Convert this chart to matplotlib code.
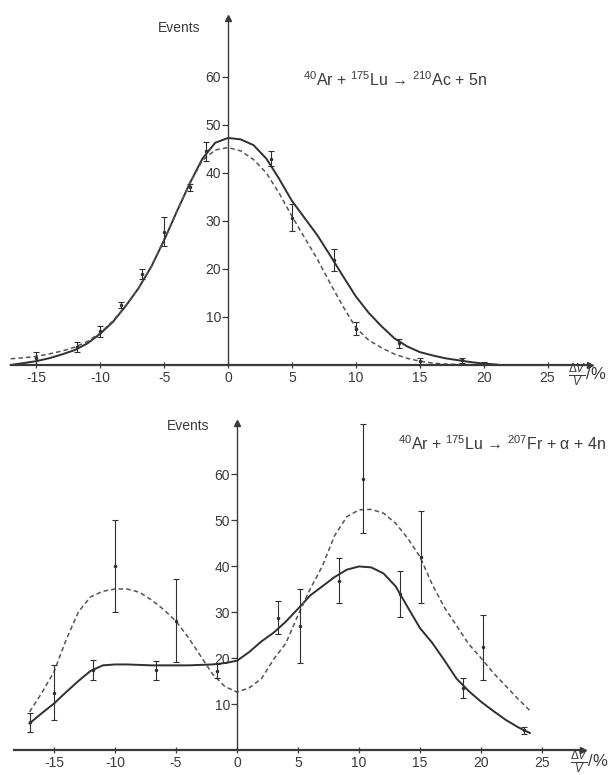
import numpy as np
import matplotlib
matplotlib.use("Agg")
import matplotlib.pyplot as plt

plt.rcParams['font.family'] = ['Liberation Sans', 'DejaVu Sans']
plt.rcParams['mathtext.fontset'] = 'custom'
plt.rcParams['mathtext.rm'] = 'Liberation Sans'
plt.rcParams['mathtext.it'] = 'Liberation Sans:italic'
plt.rcParams['axes.unicode_minus'] = False

# ---------------- DATOS: panel superior (210Ac + 5n) ----------------
top_x = [-17, -16, -15, -14, -13, -12, -11, -10, -9, -8, -7, -6, -5, -4, -3, -2, -1, 0,
         1, 2, 3, 4, 5, 6, 7, 8, 9, 10, 11, 12, 13, 14, 15, 16, 17, 18, 19, 20, 21]
top_solid = [0.0, 0.4, 0.8, 1.4, 2.2, 3.1, 4.5, 6.5, 9.0, 12.3, 16.0, 20.5, 26.0, 32.0, 37.8,
             43.0, 46.3, 47.3, 47.0, 45.8, 43.0, 38.8, 34.2, 30.6, 27.0, 22.8, 18.5, 14.3,
             10.9, 8.1, 5.6, 3.9, 2.7, 2.0, 1.4, 1.0, 0.6, 0.3, 0.1]
top_dash_x = [-17, -16, -15, -14, -13, -12, -11, -10, -9, -8, -7, -6, -5, -4, -3, -2, -1, 0,
              1, 2, 3, 4, 5, 6, 7, 8, 9, 10, 11, 12, 13, 14, 15, 16, 17, 18]
top_dashed = [1.3, 1.5, 1.8, 2.3, 2.9, 3.7, 4.9, 6.7, 9.2, 12.4, 16.0, 20.5, 26.0, 32.0, 37.8,
              42.6, 44.8, 45.3, 44.6, 42.8, 40.0, 35.8, 31.0, 26.5, 22.0, 17.0, 12.2, 7.8,
              5.2, 3.6, 2.3, 1.4, 0.8, 0.4, 0.2, 0.1]
top_pts_x = [-15.0, -11.8, -10.0, -8.4, -6.7, -5.0, -3.0, -1.7, 3.4, 5.0, 8.3, 10.0, 13.4, 15.0, 18.3, 20.0]
top_pts_y = [1.5, 3.8, 7.0, 12.5, 19.0, 27.8, 37.0, 44.5, 43.0, 30.7, 21.8, 7.6, 4.5, 0.8, 1.0, 0.3]
top_pts_err = [1.2, 1.0, 1.2, 0.7, 1.0, 3.0, 0.8, 2.0, 1.6, 2.8, 2.3, 1.3, 1.0, 0.7, 0.5, 0.3]

# ---------------- DATOS: panel inferior (207Fr + alpha + 4n) ----------------
bot_x = [-17, -16, -15, -14, -13, -12, -11, -10, -9, -8, -7, -6, -5, -4, -3, -2, -1, 0,
         1, 2, 3, 4, 5, 6, 7, 8, 9, 10, 11, 12, 13, 14, 15, 16, 17, 18, 19, 20, 21, 22, 23, 24]
bot_solid = [5.8, 8.0, 10.1, 12.6, 15.0, 17.2, 18.4, 18.6, 18.6, 18.5, 18.4, 18.4, 18.4, 18.4,
             18.5, 18.6, 18.9, 19.4, 21.3, 23.6, 25.5, 27.9, 30.7, 33.6, 35.6, 37.6, 39.2,
             39.9, 39.7, 38.4, 35.6, 31.0, 26.5, 23.3, 19.5, 15.5, 12.8, 10.5, 8.5, 6.6, 5.0, 3.7]
bot_dashed = [8.3, 12.4, 17.0, 24.0, 30.0, 33.3, 34.5, 35.0, 35.0, 34.3, 32.6, 30.5, 28.0, 24.5,
              20.5, 16.5, 13.8, 12.6, 13.5, 15.5, 19.7, 23.2, 29.3, 35.0, 40.0, 46.6, 50.7,
              52.2, 52.3, 51.5, 49.3, 46.0, 42.0, 36.0, 31.0, 27.0, 23.0, 20.0, 16.8, 14.0,
              11.2, 8.6]
bot_pts_x = [-17.0, -15.0, -11.8, -10.0, -6.6, -5.0, -1.6, 3.4, 5.2, 8.4, 10.3, 13.4, 15.1, 18.5, 20.2, 23.5]
bot_pts_y = [6.0, 12.5, 17.4, 40.0, 17.3, 28.1, 17.2, 28.8, 27.0, 36.8, 59.0, 34.0, 41.9, 13.5, 22.3, 4.3]
bot_pts_err = [2.0, 6.0, 2.2, 10.0, 2.1, 9.0, 1.6, 3.6, 8.0, 4.9, 11.8, 5.0, 10.0, 2.2, 7.0, 0.8]

x_ticks = [-15, -10, -5, 0, 5, 10, 15, 20, 25]
y_ticks = [10, 20, 30, 40, 50, 60]

AX_COLOR = '#3a3a3a'
SOLID_COLOR = '#2f2f2f'
DASH_COLOR = '#555555'


def draw_panel(ax, x_start, x_end, y_end, reaction, reaction_xy, events_xy, label_xy):
    """ Ejes con flechas en el origen, como en la figura original """
    for s in ['top', 'right']:
        ax.spines[s].set_visible(False)
    ax.spines['left'].set_position(('data', 0))
    ax.spines['bottom'].set_position(('data', 0))
    ax.spines['left'].set_bounds(0, y_end)
    ax.spines['bottom'].set_bounds(x_start, x_end)
    ax.spines['left'].set_linewidth(1.0)
    ax.spines['bottom'].set_linewidth(1.6)
    ax.spines['left'].set_color(AX_COLOR)
    ax.spines['bottom'].set_color(AX_COLOR)
    ax.plot(x_end, 0, '>', color=AX_COLOR, ms=5, clip_on=False)
    ax.plot(0, y_end, '^', color=AX_COLOR, ms=4, clip_on=False)

    ax.set_xticks(x_ticks)
    ax.set_yticks(y_ticks)
    ax.tick_params(axis='y', direction='out', length=4, width=0.9, colors=AX_COLOR,
                   labelsize=10, pad=1)
    ax.tick_params(axis='x', direction='inout', length=5, width=0.9, colors=AX_COLOR,
                   labelsize=10, pad=2)

    ax.text(*events_xy, 'Events', fontsize=10, color=AX_COLOR, ha='center', va='center')
    ax.text(*reaction_xy, reaction, fontsize=11.5, color=AX_COLOR, ha='left', va='center')
    ax.text(*label_xy, r'$\frac{\Delta V}{V}$/%', fontsize=12, color=AX_COLOR,
            ha='left', va='center')


fig = plt.figure(figsize=(6.12, 7.75), dpi=100)

# ------------- PANEL SUPERIOR -------------
ax1 = fig.add_axes([0, 1 - 387 / 775, 1, (387 - 5) / 775])
ax1.set_xlim((0 - 228) / 12.78, (612 - 228) / 12.78)
ax1.set_ylim((365 - 387) / 4.8, (365 - 5) / 4.8)
draw_panel(ax1, -16.9, 28.3, 72.3,
           r'$^{40}$Ar + $^{175}$Lu → $^{210}$Ac + 5n', (5.9, 59.5), (-3.8, 70.2), (26.6, -2.2))
ax1.plot(top_x, top_solid, '-', color=SOLID_COLOR, lw=1.4)
ax1.plot(top_dash_x, top_dashed, color=DASH_COLOR, lw=1.1, linestyle=(0, (3, 2)))
ax1.errorbar(top_pts_x, top_pts_y, yerr=top_pts_err, fmt='.', ms=3, color=SOLID_COLOR,
             elinewidth=0.8, capsize=2, capthick=0.8)

# ------------- PANEL INFERIOR -------------
ax2 = fig.add_axes([0, 0, 1, (775 - 400) / 775])
ax2.set_xlim((0 - 237) / 12.2, (612 - 237) / 12.2)
ax2.set_ylim((750 - 775) / 4.6, (750 - 400) / 4.6)
draw_panel(ax2, -18.3, 28.4, 71.1,
           r'$^{40}$Ar + $^{175}$Lu → $^{207}$Fr + α + 4n', (13.2, 66.5), (-4.0, 70.5), (27.3, -2.6))
ax2.plot(bot_x, bot_solid, '-', color=SOLID_COLOR, lw=1.4)
ax2.plot(bot_x, bot_dashed, color=DASH_COLOR, lw=1.1, linestyle=(0, (3, 2)))
ax2.errorbar(bot_pts_x, bot_pts_y, yerr=bot_pts_err, fmt='.', ms=3, color=SOLID_COLOR,
             elinewidth=0.8, capsize=2, capthick=0.8)

fig.savefig('out.png', dpi=100)
